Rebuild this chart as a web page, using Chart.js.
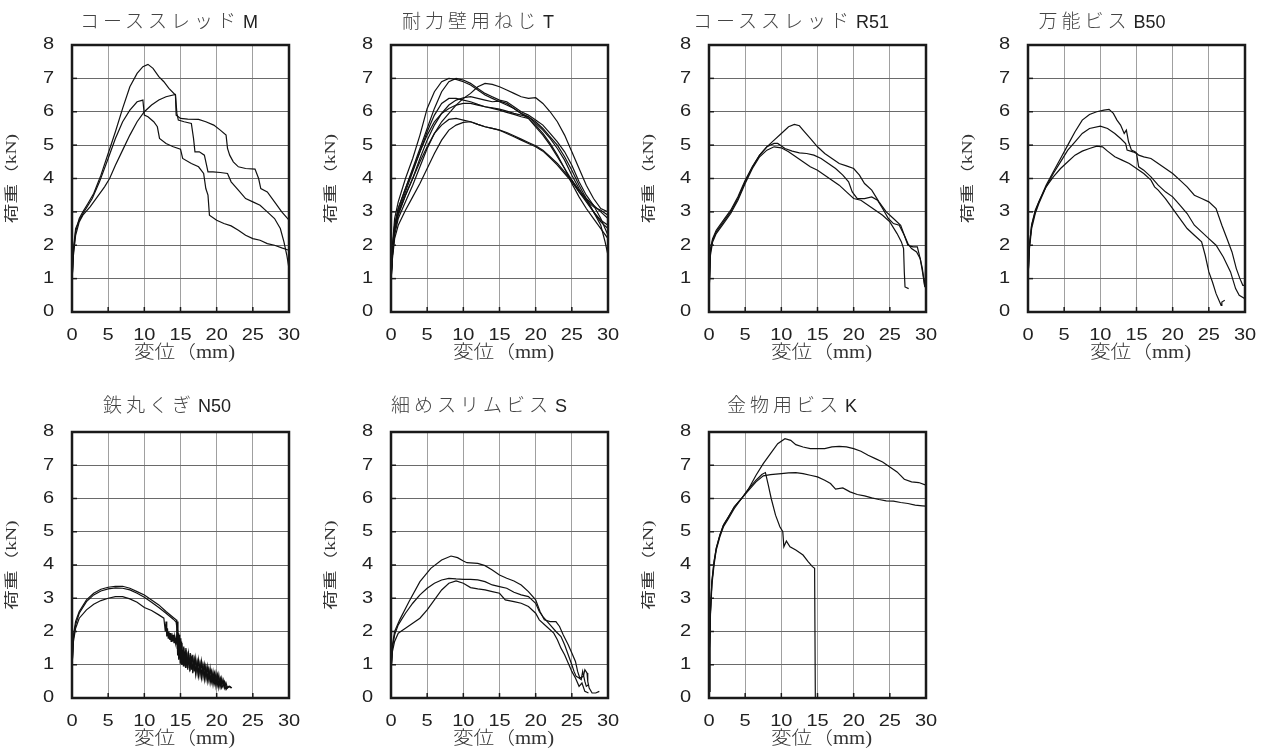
<!DOCTYPE html>
<html>
<head>
<meta charset="utf-8">
<script src="https://cdn.jsdelivr.net/npm/chart.js@4.4.1/dist/chart.umd.min.js"></script>
<style>
  body { margin: 0; background: #fff; overflow: hidden; }
  #wrap { position: relative; width: 1263px; height: 756px; }
  canvas { position: absolute; }
  .ttl {
    position: absolute; width: 300px; text-align: center; line-height: 24px;
    font-family: "Noto Sans CJK JP", sans-serif; font-weight: 300; font-size: 19px; letter-spacing: 4px; color: #444;
  }
  .ttl span { font-family: "Liberation Sans", Arial, sans-serif; font-weight: 400; font-size: 18px; letter-spacing: 0; color: #222; margin-left: 3px; }
</style>
</head>
<body>
<div id="wrap"></div>
<script>
// axis ticks shared by all panels
var xTickValues = [0, 5, 10, 15, 20, 25, 30];
var yTickValues = [0, 1, 2, 3, 4, 5, 6, 7, 8];
var xAxisTitle = '変位（mm)';
var yAxisTitle = '荷重（kN)';

var panelNames = ['コーススレッド', '耐力壁用ねじ', 'コーススレッド', '万能ビス', '鉄丸くぎ', '細めスリムビス', '金物用ビス'];
var panelCodes = ['M', 'T', 'R51', 'B50', 'N50', 'S', 'K'];

// load (kN) vs displacement (mm) curves
var mCurve1 = [[0,0.9],[0.2,1.8],[0.5,2.4],[1,2.8],[1.5,3.0],[2.2,3.25],[3,3.55],[4,4.1],[5,4.75],[6,5.4],[7,6.1],[8,6.75],[9,7.15],[9.8,7.35],[10.5,7.42],[11.2,7.3],[12,7.05],[12.7,6.9],[13.4,6.7],[14.3,6.5],[14.4,5.9],[15,5.8],[16,5.78],[17.5,5.77],[18.5,5.7],[19.6,5.6],[20.5,5.45],[21.3,5.3],[21.5,4.9],[21.8,4.7],[22.3,4.5],[23,4.35],[24,4.3],[25.3,4.28],[25.8,4.0],[26.1,3.7],[27,3.6],[28,3.3],[29,3.0],[30,2.75]];
var mCurve2 = [[0,0.9],[0.2,1.7],[0.5,2.3],[1,2.7],[1.5,2.9],[2.5,3.15],[3.5,3.45],[4.5,3.75],[5.2,4.0],[6,4.4],[7,4.85],[8,5.3],[9,5.7],[10,6.0],[11,6.2],[12,6.35],[13,6.45],[14.3,6.52],[14.5,5.95],[14.7,5.75],[15.5,5.7],[16.5,5.65],[16.8,5.2],[17,4.8],[17.6,4.8],[18.3,4.7],[18.6,4.4],[18.8,4.2],[19.5,4.2],[20.5,4.18],[21.5,4.15],[22,3.9],[23,3.65],[24,3.4],[25,3.3],[26,3.2],[27,3.0],[28,2.8],[28.8,2.5],[29.3,2.1],[29.7,1.7],[30,1.3]];
var mCurve3 = [[0,0.9],[0.2,1.9],[0.5,2.5],[1,2.75],[1.8,3.05],[2.8,3.4],[3.8,3.9],[5,4.6],[6,5.2],[7,5.7],[8,6.05],[9,6.3],[9.8,6.35],[10,5.9],[10.5,5.85],[11.3,5.7],[11.8,5.55],[12.1,5.2],[13,5.05],[14,4.95],[15,4.88],[15.3,4.6],[16.5,4.45],[17.5,4.35],[18.2,4.15],[18.5,3.7],[18.8,3.5],[19,2.9],[20,2.75],[21,2.65],[22,2.58],[23,2.45],[24,2.3],[25,2.2],[26,2.15],[27,2.05],[28,2.0],[29,1.92],[30,1.85]];

var tCurve1 = [[0,1.0],[0.2,2.0],[0.5,2.8],[1,3.3],[2,4.0],[3,4.6],[4,5.3],[5,6.1],[6,6.6],[7,6.9],[8,7.0],[9,6.97],[10,6.9],[11,6.8],[12,6.65],[13,6.5],[14,6.4],[15,6.3],[16,6.2],[17,6.1],[18,5.95],[19,5.85],[20,5.7],[21,5.5],[22,5.25],[23,5.0],[24,4.65],[25,4.25],[26,3.8],[27,3.4],[28,3.0],[29,2.6],[29.6,2.1],[30,1.7]];
var tCurve2 = [[0,1.0],[0.2,1.9],[0.5,2.6],[1,3.1],[2,3.7],[3,4.3],[4,4.9],[5,5.5],[6,6.1],[7,6.6],[8,6.9],[9,7.0],[10,6.95],[11,6.85],[12,6.7],[13,6.55],[14,6.45],[15,6.35],[16,6.3],[17,6.15],[18,6.0],[19,5.9],[20,5.75],[21,5.6],[22,5.35],[23,5.1],[24,4.8],[25,4.4],[26,3.9],[27,3.5],[28,3.2],[29,2.8],[30,2.3]];
var tCurve3 = [[0,0.9],[0.2,1.7],[0.5,2.3],[1,2.8],[2,3.3],[3,3.8],[4,4.35],[5,4.9],[6,5.35],[7,5.7],[8,5.95],[9,6.2],[10,6.4],[11,6.55],[12,6.75],[13,6.85],[14,6.82],[15,6.75],[16,6.65],[17,6.55],[18,6.45],[19,6.4],[20,6.42],[21,6.25],[22,6.0],[23,5.7],[24,5.3],[25,4.8],[26,4.3],[27,3.8],[28,3.4],[29,3.1],[30,3.0]];
var tCurve4 = [[0,1.0],[0.2,1.8],[0.5,2.5],[1,3.0],[2,3.6],[3,4.2],[4,4.8],[5,5.4],[6,5.9],[7,6.25],[8,6.4],[9,6.4],[10,6.35],[11,6.3],[12,6.22],[13,6.15],[14,6.12],[15,6.08],[16,6.02],[17,5.95],[18,5.9],[19,5.85],[20,5.65],[21,5.45],[22,5.2],[23,4.9],[24,4.55],[25,4.1],[26,3.7],[27,3.35],[28,3.0],[29,2.7],[30,2.5]];
var tCurve5 = [[0,0.9],[0.2,1.7],[0.5,2.4],[1,2.9],[2,3.5],[3,4.0],[4,4.6],[5,5.15],[6,5.6],[7,5.95],[8,6.2],[9,6.35],[10,6.42],[11,6.45],[12,6.4],[13,6.35],[14,6.3],[15,6.32],[16,6.25],[17,6.1],[18,5.95],[19,5.8],[20,5.6],[21,5.35],[22,5.05],[23,4.7],[24,4.3],[25,3.85],[26,3.45],[27,3.1],[28,2.8],[29,2.5],[30,2.2]];
var tCurve6 = [[0,1.0],[0.2,1.9],[0.5,2.6],[1,3.1],[2,3.7],[3,4.25],[4,4.8],[5,5.3],[6,5.7],[7,5.95],[8,6.1],[9,6.2],[10,6.25],[11,6.25],[12,6.2],[13,6.15],[14,6.1],[15,6.05],[16,5.98],[17,5.92],[18,5.85],[19,5.8],[20,5.55],[21,5.3],[22,5.0],[23,4.65],[24,4.3],[25,3.95],[26,3.6],[27,3.3],[28,3.0],[29,2.75],[30,2.6]];
var tCurve7 = [[0,1.0],[0.2,1.8],[0.5,2.5],[1,2.95],[2,3.5],[3,4.0],[4,4.5],[5,4.95],[6,5.35],[7,5.6],[8,5.77],[9,5.8],[10,5.75],[11,5.7],[12,5.62],[13,5.55],[14,5.5],[15,5.45],[16,5.38],[17,5.28],[18,5.18],[19,5.08],[20,4.98],[21,4.85],[22,4.65],[23,4.45],[24,4.2],[25,3.95],[26,3.65],[27,3.4],[28,3.2],[29,3.0],[30,2.8]];
var tCurve8 = [[0,0.9],[0.2,1.6],[0.5,2.2],[1,2.6],[2,3.05],[3,3.45],[4,3.85],[5,4.3],[6,4.75],[7,5.15],[8,5.45],[9,5.6],[10,5.68],[11,5.7],[12,5.62],[13,5.55],[14,5.5],[15,5.45],[16,5.35],[17,5.25],[18,5.15],[19,5.05],[20,4.95],[21,4.82],[22,4.62],[23,4.4],[24,4.15],[25,3.9],[26,3.6],[27,3.35],[28,3.15],[29,3.05],[30,2.9]];

var rCurve1 = [[0,0.5],[0.2,1.9],[0.5,2.2],[1,2.45],[2,2.75],[3,3.05],[4,3.45],[5,3.95],[6,4.35],[7,4.7],[8,4.95],[9,5.15],[10,5.35],[11,5.55],[11.8,5.62],[12.5,5.58],[13,5.45],[14,5.2],[15,4.95],[16,4.75],[17,4.6],[18,4.45],[19,4.38],[20,4.3],[20.8,4.1],[21.5,3.85],[22.5,3.65],[23.5,3.3],[24.5,3.0],[25.5,2.8],[26.5,2.6],[27,2.3],[27.5,2.0],[28.2,1.95],[28.8,1.95],[29.2,1.6],[29.6,1.1],[29.85,0.75],[30,1.9],[30,0.55]];
var rCurve2 = [[0,0.5],[0.2,1.8],[0.5,2.15],[1,2.4],[2,2.7],[3,3.0],[4,3.4],[5,3.9],[6,4.35],[7,4.7],[8,4.95],[9,5.05],[9.5,5.05],[10.5,4.9],[11.5,4.82],[12.5,4.77],[13.5,4.75],[14.5,4.7],[15.5,4.6],[16.5,4.45],[17.5,4.3],[18.5,4.1],[19.3,3.9],[19.8,3.6],[20.5,3.4],[21.5,3.4],[22.5,3.45],[23.3,3.35],[24,3.1],[24.8,2.8],[25.5,2.65],[26.3,2.6],[27,2.3],[27.5,2.05],[28,1.9],[28.7,1.8],[29.2,1.6],[29.5,1.3],[29.8,0.8],[30,0.7]];
var rCurve3 = [[0,0.5],[0.2,1.7],[0.5,2.1],[1,2.35],[2,2.65],[3,2.95],[4,3.35],[5,3.85],[6,4.3],[7,4.65],[8,4.85],[9,4.95],[10,4.92],[11,4.8],[12,4.65],[13,4.5],[14,4.35],[15,4.25],[16,4.1],[17,3.95],[18,3.8],[19,3.6],[20,3.4],[21,3.35],[22,3.2],[23,3.05],[24,2.9],[25,2.7],[26,2.35],[26.6,2.1],[26.9,1.9],[27,1.2],[27.1,0.75],[27.6,0.7]];

var bCurve1 = [[0,1.0],[0.2,2.0],[0.5,2.6],[1,3.0],[1.5,3.3],[2.5,3.8],[3.5,4.2],[4.5,4.6],[5.5,5.0],[6.5,5.4],[7.5,5.75],[8.5,5.92],[9.5,6.0],[10.5,6.05],[11.2,6.07],[11.8,5.95],[12.3,5.75],[12.8,5.6],[13.3,5.35],[13.6,5.45],[13.9,5.1],[14.3,4.85],[14.8,4.8],[15.3,4.7],[16,4.65],[17,4.6],[18,4.45],[19,4.3],[20,4.15],[21,3.95],[22,3.75],[23,3.5],[24,3.4],[25,3.3],[26,3.1],[26.8,2.6],[27.5,2.2],[28.2,1.8],[28.8,1.3],[29.3,1.0],[29.7,0.8],[30,0.8]];
var bCurve2 = [[0,1.0],[0.2,1.9],[0.5,2.5],[1,2.95],[1.5,3.25],[2.5,3.75],[3.5,4.15],[4.5,4.5],[5.5,4.85],[6.5,5.1],[7.5,5.35],[8.5,5.5],[10,5.57],[11,5.5],[12,5.35],[12.8,5.2],[13.5,5.05],[13.7,4.85],[14.5,4.8],[15,4.75],[15.3,4.35],[16,4.25],[17,4.05],[18,3.8],[19,3.6],[20,3.45],[21,3.2],[22,2.95],[23,2.6],[24,2.4],[25,2.2],[26,2.0],[27,1.65],[28,1.2],[28.7,0.7],[29.2,0.5],[30,0.4]];
var bCurve3 = [[0,1.0],[0.2,2.0],[0.5,2.6],[1,3.05],[1.5,3.3],[2.5,3.75],[3.5,4.05],[4.5,4.3],[5.5,4.5],[6.5,4.7],[7.5,4.82],[8.5,4.9],[9.5,4.97],[10.3,4.95],[11,4.82],[12,4.65],[13,4.55],[14,4.45],[15,4.3],[16,4.15],[17,3.95],[17.5,3.75],[18,3.65],[19,3.4],[20,3.1],[21,2.8],[22,2.5],[23,2.3],[24,2.1],[24.5,1.7],[25,1.2],[25.5,0.9],[26,0.55],[26.5,0.3],[26.7,0.2],[26.8,0.3],[27.2,0.35]];

var nCurve1 = [[0,0.9],[0.2,1.9],[0.5,2.3],[1,2.6],[2,2.95],[3,3.15],[4,3.27],[5,3.33],[6,3.36],[7,3.36],[8,3.3],[9,3.2],[10,3.1],[11,2.95],[12,2.8],[13,2.6],[14,2.42],[14.4,2.35],[14.5,2.2],[14.55,1.5],[14.6,2.05],[14.7,1.3],[14.8,1.9],[14.9,1.2],[15.0,1.75],[15.1,1.1],[15.2,1.65],[15.3,1.0],[15.45,1.55],[15.6,0.95],[15.75,1.5],[15.9,0.9],[16.05,1.4],[16.2,0.9],[16.35,1.35],[16.5,0.85],[16.7,1.3],[16.9,0.8],[17.1,1.2],[17.3,0.75],[17.5,1.15],[17.7,0.7],[17.9,1.1],[18.1,0.65],[18.3,1.0],[18.5,0.6],[18.7,0.95],[18.9,0.55],[19.1,0.9],[19.3,0.5],[19.5,0.8],[19.7,0.45],[19.9,0.75],[20.1,0.4],[20.3,0.7],[20.5,0.35],[20.7,0.6],[20.9,0.35],[21.1,0.5],[21.4,0.3],[21.7,0.35],[22.0,0.3]];
var nCurve2 = [[0,0.9],[0.2,1.8],[0.5,2.2],[1,2.55],[2,2.9],[3,3.1],[4,3.22],[5,3.28],[6,3.31],[7,3.3],[8,3.25],[9,3.15],[10,3.03],[11,2.88],[12,2.72],[13,2.55],[14,2.37],[14.4,2.28],[14.5,2.1],[14.6,1.3],[14.65,1.8],[14.75,1.15],[14.85,1.7],[14.95,1.05],[15.05,1.6],[15.15,1.0],[15.25,1.45],[15.4,0.95],[15.55,1.4],[15.7,0.9],[15.85,1.35],[16.0,0.85],[16.15,1.3],[16.3,0.8],[16.5,1.25],[16.7,0.75],[16.9,1.15],[17.1,0.7],[17.3,1.05],[17.5,0.65],[17.7,1.0],[17.9,0.6],[18.1,0.95],[18.3,0.55],[18.5,0.9],[18.7,0.5],[18.9,0.85],[19.1,0.45],[19.3,0.75],[19.5,0.4],[19.7,0.7],[19.9,0.35],[20.1,0.65],[20.3,0.3],[20.5,0.55],[20.7,0.3],[21.0,0.45],[21.3,0.25],[21.6,0.35]];
var nCurve3 = [[0,0.9],[0.2,1.7],[0.5,2.1],[1,2.4],[2,2.65],[3,2.82],[4,2.93],[5,3.0],[6,3.05],[7,3.05],[8,2.98],[9,2.88],[10,2.72],[11,2.63],[12,2.5],[12.7,2.4],[12.9,2.0],[13.0,2.3],[13.1,1.85],[13.2,2.1],[13.3,1.8],[13.4,2.0],[13.5,1.75],[13.6,1.95],[13.7,1.7],[13.8,1.95],[13.9,1.7],[14.0,1.9],[14.1,1.65],[14.2,1.85],[14.3,1.65],[14.4,1.8],[14.5,1.6],[14.6,2.3],[14.65,1.4],[14.75,1.95],[14.85,1.25],[14.95,1.8],[15.05,1.2],[15.15,1.7],[15.3,1.05],[15.45,1.5],[15.6,1.0],[15.75,1.45],[15.9,0.95],[16.1,1.35],[16.3,0.9],[16.5,1.2],[16.7,0.85],[16.9,1.15],[17.1,0.8],[17.3,1.1],[17.5,0.75],[17.7,1.05],[17.9,0.7],[18.1,1.0],[18.3,0.65],[18.5,0.95],[18.7,0.6],[18.9,0.85],[19.1,0.55],[19.3,0.8],[19.5,0.5],[19.7,0.75],[19.9,0.45],[20.1,0.7],[20.3,0.4],[20.5,0.6],[20.7,0.4],[20.9,0.55],[21.1,0.3],[21.3,0.45],[21.5,0.3],[21.8,0.35],[22.1,0.3]];

var sCurve1 = [[0,0.8],[0.2,1.6],[0.5,2.0],[1.2,2.35],[2.5,2.9],[4,3.5],[5.5,3.9],[7,4.15],[8.3,4.27],[9.2,4.22],[10,4.12],[10.5,4.07],[12,4.05],[13,3.98],[14,3.85],[15,3.7],[16,3.6],[17,3.52],[18,3.4],[19,3.2],[20,2.95],[20.6,2.6],[21.2,2.35],[22,2.3],[22.8,2.3],[23.3,2.15],[23.8,1.9],[24.5,1.6],[25,1.35],[25.5,1.1],[25.8,0.8],[26.1,0.6],[26.6,0.65],[26.8,0.85],[27.1,0.75],[27.2,0.5],[27.4,0.3],[27.8,0.15],[28.3,0.15],[28.8,0.2]];
var sCurve2 = [[0,0.8],[0.2,1.5],[0.5,1.9],[1,2.2],[2,2.55],[3,2.85],[4,3.1],[5,3.3],[6,3.45],[7,3.55],[8,3.6],[9,3.58],[10,3.57],[11,3.57],[12,3.55],[13,3.5],[14,3.4],[15,3.35],[16,3.3],[17,3.18],[18,3.1],[19,3.05],[20,2.85],[20.5,2.6],[21,2.45],[22,2.2],[22.8,2.0],[23.5,1.85],[24,1.6],[24.5,1.3],[25,1.0],[25.3,0.8],[25.6,0.65],[26,0.6],[26.3,0.55],[26.5,0.8],[26.8,0.5],[27.0,0.35],[27.3,0.4]];
var sCurve3 = [[0,0.8],[0.2,1.4],[0.5,1.7],[1,1.95],[2,2.1],[3,2.25],[4,2.4],[5,2.65],[6,2.95],[7,3.25],[8,3.45],[9,3.52],[10,3.45],[11,3.32],[12,3.28],[13,3.25],[14,3.2],[15,3.15],[15.8,2.95],[17,2.9],[18,2.85],[19,2.75],[20,2.55],[20.5,2.35],[21.5,2.15],[22.5,1.95],[23,1.75],[23.5,1.5],[24,1.3],[24.6,1.0],[25,0.8],[25.5,0.6],[26,0.35],[26.4,0.45],[26.8,0.2],[27.3,0.15]];

var kCurve1 = [[0,0.2],[0.1,1.5],[0.2,2.6],[0.4,3.5],[0.7,4.1],[1,4.5],[1.5,4.9],[2,5.2],[2.7,5.45],[3.5,5.75],[4.5,6.0],[5.5,6.3],[6.5,6.7],[7.5,7.05],[8.5,7.35],[9.5,7.65],[10.5,7.8],[11.3,7.75],[12,7.62],[13,7.55],[14,7.5],[15,7.5],[16,7.5],[17,7.55],[18,7.57],[19,7.55],[20,7.5],[21,7.42],[22,7.3],[23,7.2],[24,7.1],[25,6.95],[26,6.8],[27,6.58],[28,6.5],[29,6.48],[30,6.4]];
var kCurve2 = [[0,0.2],[0.1,1.5],[0.2,2.6],[0.4,3.5],[0.7,4.1],[1,4.5],[1.5,4.9],[2,5.2],[2.7,5.45],[3.5,5.75],[4.5,6.0],[5.5,6.25],[6.5,6.5],[7.5,6.68],[8.5,6.72],[10,6.75],[11,6.77],[12,6.78],[13,6.75],[14,6.7],[15,6.65],[16,6.55],[16.8,6.45],[17.5,6.28],[18.5,6.32],[19.5,6.2],[20.5,6.12],[21.5,6.08],[22.5,6.02],[23.5,5.97],[24.5,5.93],[25.5,5.92],[26.5,5.88],[27.5,5.85],[28.5,5.8],[29.5,5.78],[30,5.77]];
var kCurve3 = [[0,0.2],[0.1,1.4],[0.2,2.5],[0.4,3.4],[0.7,4.0],[1,4.45],[1.5,4.85],[2,5.15],[2.7,5.4],[3.5,5.7],[4.5,6.0],[5.5,6.3],[6.5,6.55],[7.3,6.72],[7.8,6.78],[8.2,6.4],[8.6,6.0],[9.2,5.5],[9.8,5.15],[10.2,5.0],[10.35,4.55],[10.7,4.72],[11.2,4.55],[12,4.45],[13,4.3],[13.7,4.1],[14.3,3.95],[14.6,3.9],[14.7,0]];

var panelCurves = [
  [mCurve1, mCurve2, mCurve3],
  [tCurve1, tCurve2, tCurve3, tCurve4, tCurve5, tCurve6, tCurve7, tCurve8],
  [rCurve1, rCurve2, rCurve3],
  [bCurve1, bCurve2, bCurve3],
  [nCurve1, nCurve2, nCurve3],
  [sCurve1, sCurve2, sCurve3],
  [kCurve1, kCurve2, kCurve3]
];

// where each panel sits on the page: plot left/top, and title centre
var panelBoxes = [
  {left: 72, top: 45, titleX: 169, titleY: 8},
  {left: 391, top: 45, titleX: 478, titleY: 8},
  {left: 709, top: 45, titleX: 791, titleY: 8},
  {left: 1028, top: 45, titleX: 1102, titleY: 8},
  {left: 72, top: 432, titleX: 167, titleY: 392},
  {left: 391, top: 432, titleX: 479, titleY: 392},
  {left: 709, top: 432, titleX: 792, titleY: 392}
];

var AXIS_W = 72, PLOT_W = 217, PAD_R = 14, XAXIS_H = 56;
var TICK_FONT = '16px "Liberation Sans", Arial, sans-serif';
var X_TITLE_FONT = '300 18px "Liberation Serif", "Noto Sans CJK JP", serif';
var Y_TITLE_FONT = '14px "Liberation Serif", "Noto Sans CJK JP", serif';

// frame, inner tick marks, and the (horizontally stretched) axis texts
var framePlugin = {
  id: 'frame',
  afterDraw: function(chart) {
    var a = chart.chartArea, ctx = chart.ctx;
    var xs = chart.scales.x, ys = chart.scales.y;
    ctx.save();
    ctx.strokeStyle = '#1a1a1a';
    ctx.lineWidth = 1.5;
    xs.ticks.forEach(function(t) {
      var px = xs.getPixelForValue(t.value);
      ctx.beginPath(); ctx.moveTo(px, a.bottom); ctx.lineTo(px, a.bottom - 5); ctx.stroke();
    });
    ys.ticks.forEach(function(t) {
      var py = ys.getPixelForValue(t.value);
      ctx.beginPath(); ctx.moveTo(a.left, py); ctx.lineTo(a.left + 5, py); ctx.stroke();
    });
    ctx.lineWidth = 2.5;
    ctx.strokeRect(a.left, a.top, a.right - a.left, a.bottom - a.top);

    ctx.fillStyle = '#222';
    ctx.font = TICK_FONT;
    ctx.textBaseline = 'middle';
    ctx.textAlign = 'center';
    xs.ticks.forEach(function(t) {
      ctx.save();
      ctx.translate(xs.getPixelForValue(t.value), a.bottom + 24);
      ctx.scale(1.25, 1);
      ctx.fillText(t.label != null ? t.label : String(t.value), 0, 0);
      ctx.restore();
    });
    ctx.textAlign = 'right';
    ys.ticks.forEach(function(t) {
      ctx.save();
      ctx.translate(a.left - 18, ys.getPixelForValue(t.value));
      ctx.scale(1.25, 1);
      ctx.fillText(t.label != null ? t.label : String(t.value), 0, 0);
      ctx.restore();
    });

    ctx.fillStyle = '#333';
    ctx.textAlign = 'center';
    ctx.font = X_TITLE_FONT;
    ctx.save();
    ctx.translate((a.left + a.right) / 2 + 4, a.bottom + 41);
    ctx.scale(1.15, 1);
    ctx.fillText(xAxisTitle, 0, 0);
    ctx.restore();

    ctx.font = Y_TITLE_FONT;
    ctx.save();
    ctx.translate(a.left - 60, (a.top + a.bottom) / 2);
    ctx.rotate(-Math.PI / 2);
    ctx.scale(1.4, 1);
    ctx.fillText(yAxisTitle, 0, 0);
    ctx.restore();
    ctx.restore();
  }
};

function panelChart(i) {
  var box = panelBoxes[i];
  var wrap = document.getElementById('wrap');
  var rowTop = i < 4 ? 0 : 388;
  var plotH = i < 4 ? 267 : 266;

  var canvas = document.createElement('canvas');
  canvas.width = AXIS_W + PLOT_W + PAD_R;
  canvas.height = box.top - rowTop + plotH + XAXIS_H;
  canvas.style.left = (box.left - AXIS_W) + 'px';
  canvas.style.top = rowTop + 'px';
  wrap.appendChild(canvas);

  var title = document.createElement('div');
  title.className = 'ttl';
  title.style.left = (box.titleX - 150) + 'px';
  title.style.top = box.titleY + 'px';
  title.textContent = panelNames[i];
  var code = document.createElement('span');
  code.textContent = panelCodes[i];
  title.appendChild(code);
  wrap.appendChild(title);

  var datasets = panelCurves[i].map(function(curve) {
    return { data: curve, showLine: true, borderColor: '#111', borderWidth: 1.2, pointRadius: 0, tension: 0, fill: false };
  });

  return new Chart(canvas, {
    type: 'scatter',
    data: { datasets: datasets },
    options: {
      responsive: false,
      animation: false,
      devicePixelRatio: 1,
      layout: { padding: { top: box.top - rowTop, right: PAD_R, left: 0, bottom: 0 } },
      plugins: { legend: { display: false }, tooltip: { enabled: false }, title: { display: false } },
      scales: {
        x: {
          type: 'linear', min: 0, max: 30,
          afterBuildTicks: function(s) { s.ticks = xTickValues.map(function(v) { return { value: v }; }); },
          afterFit: function(s) { s.height = XAXIS_H; },
          grid: { color: '#a0a0a0', lineWidth: 1, drawTicks: false },
          border: { display: false },
          ticks: { display: false, autoSkip: false, maxRotation: 0 }
        },
        y: {
          type: 'linear', min: 0, max: 8,
          afterBuildTicks: function(s) { s.ticks = yTickValues.map(function(v) { return { value: v }; }); },
          afterFit: function(s) { s.width = AXIS_W; },
          grid: { color: '#6a6a6a', lineWidth: 1, drawTicks: false },
          border: { display: false },
          ticks: { display: false }
        }
      }
    },
    plugins: [framePlugin]
  });
}

for (var i = 0; i < panelBoxes.length; i++) {
  panelChart(i);
}
</script>
</body>
</html>
